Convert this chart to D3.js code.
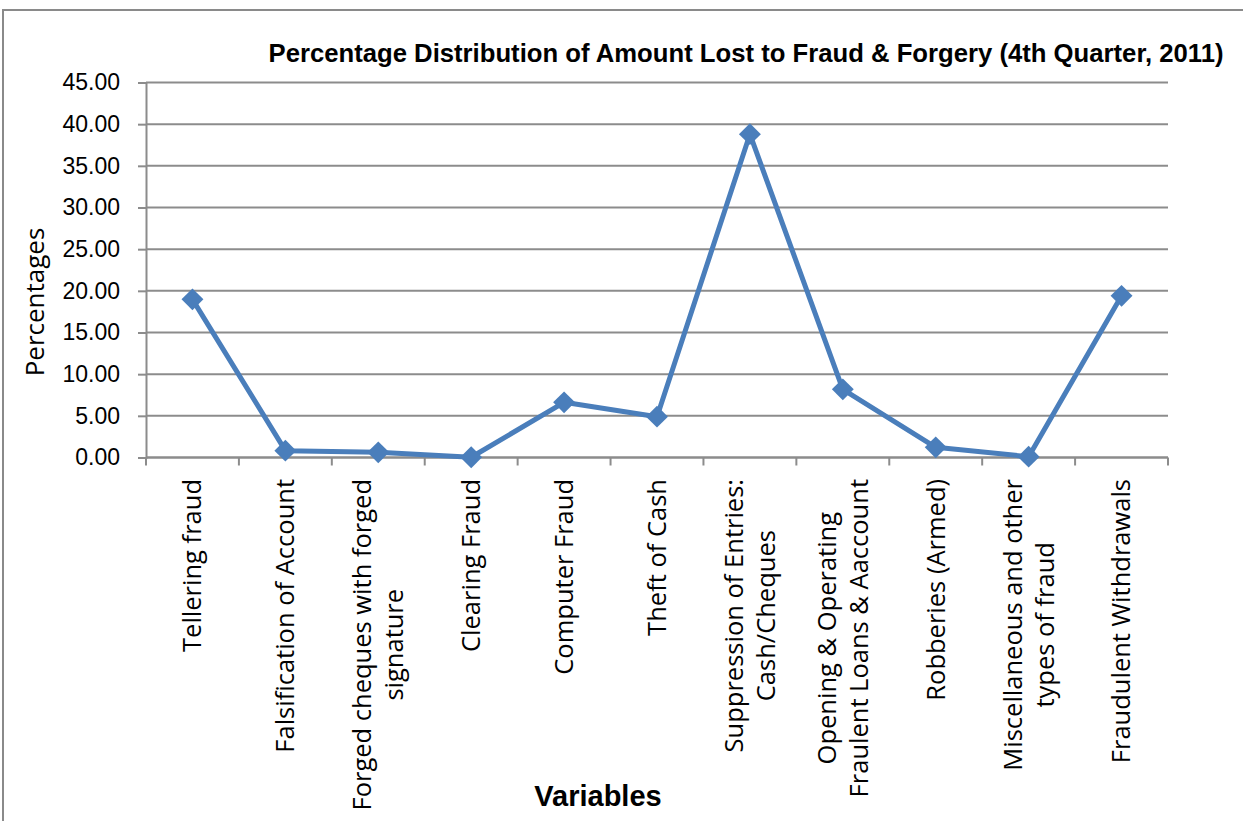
<!DOCTYPE html>
<html>
<head>
<meta charset="utf-8">
<script src="https://cdn.jsdelivr.net/npm/d3@7"></script>
<style>
  body { margin: 0; background: #fff; }
  svg { display: block; }
</style>
</head>
<body>
<svg id="chart"></svg>
<script>
// data
var categories = [
  "Tellering fraud",
  "Falsification of Account",
  "Forged cheques with forged|signature",
  "Clearing Fraud",
  "Computer Fraud",
  "Theft of Cash",
  "Suppression of Entries:|Cash/Cheques",
  "Opening & Operating|Fraulent Loans & Aaccount",
  "Robberies (Armed)",
  "Miscellaneous and other|types of fraud",
  "Fraudulent Withdrawals"
];
var percentages = [18.98, 0.82, 0.62, 0.03, 6.62, 4.9, 38.8, 8.18, 1.22, 0.1, 19.4];
var yTicks = [0, 5, 10, 15, 20, 25, 30, 35, 40, 45];

var width = 1243, height = 821;
var plotLeft = 146, plotRight = 1168, plotTop = 82.5, plotBottom = 457.5;

var svg = d3.select("#chart")
    .attr("width", width)
    .attr("height", height);

// outer chart border
svg.append("rect")
    .attr("x", 3)
    .attr("y", 10)
    .attr("width", width + 10)
    .attr("height", height + 10)
    .attr("fill", "none")
    .attr("stroke", "#8a8a8a")
    .attr("stroke-width", 2);

var x = d3.scaleBand()
    .domain(d3.range(categories.length))
    .range([plotLeft, plotRight]);

var y = d3.scaleLinear()
    .domain([0, 45])
    .range([plotBottom, plotTop]);

// gridlines
svg.append("g")
    .selectAll("line")
    .data(yTicks)
    .enter()
        .append("line")
        .attr("x1", plotLeft)
        .attr("x2", plotRight)
        .attr("y1", function(d) { return y(d); })
        .attr("y2", function(d) { return y(d); })
        .attr("stroke", "#8c8c8c")
        .attr("stroke-width", 2);

// y axis
var yAxis = svg.append("g")
    .attr("transform", "translate(" + plotLeft + ",0)")
    .call(d3.axisLeft(y).tickValues(yTicks).tickSize(8).tickPadding(18)
        .tickFormat(function(d) { return d.toFixed(2); }));
yAxis.select(".domain").attr("stroke", "#8c8c8c").attr("stroke-width", 2);
yAxis.selectAll(".tick line").attr("stroke", "#8c8c8c").attr("stroke-width", 2);
yAxis.selectAll("text")
    .attr("font-family", "'Liberation Sans', Arial, sans-serif")
    .attr("font-size", 23)
    .attr("fill", "#000");

// x axis: ticks at band edges
var xAxis = svg.append("g");
xAxis.append("line")
    .attr("x1", plotLeft)
    .attr("x2", plotRight)
    .attr("y1", plotBottom)
    .attr("y2", plotBottom)
    .attr("stroke", "#8c8c8c")
    .attr("stroke-width", 2);
xAxis.selectAll("line.tk")
    .data(d3.range(categories.length + 1))
    .enter()
        .append("line")
        .attr("class", "tk")
        .attr("x1", function(i) { return plotLeft + i * x.bandwidth(); })
        .attr("x2", function(i) { return plotLeft + i * x.bandwidth(); })
        .attr("y1", plotBottom)
        .attr("y2", plotBottom + 8)
        .attr("stroke", "#8c8c8c")
        .attr("stroke-width", 2);

// rotated category labels, lines centred on the longest one
var labelFont = "'Open Sans', 'Liberation Sans', sans-serif";
var labels = svg.append("g")
    .selectAll("g")
    .data(categories)
    .enter()
        .append("g");

labels.each(function(d, i) {
    var lines = d.split("|");
    var g = d3.select(this);
    var cx = x(i) + x.bandwidth() / 2;
    var lh = 32;
    var txt = g.append("text")
        .attr("font-family", labelFont)
        .attr("font-size", 25.5)
        .attr("fill", "#000")
        .attr("text-anchor", "middle");
    lines.forEach(function(l, k) {
        txt.append("tspan")
            .attr("x", 0)
            .attr("y", (k - (lines.length - 1) / 2) * lh)
            .attr("dy", "0.35em")
            .text(l);
    });
    var maxW = d3.max(txt.selectAll("tspan").nodes(), function(n) { return n.getComputedTextLength(); });
    g.attr("transform", "translate(" + cx + "," + (479 + maxW / 2) + ") rotate(-90)");
});

// series line
var line = d3.line()
    .x(function(d, i) { return x(i) + x.bandwidth() / 2; })
    .y(function(d) { return y(d); });

svg.append("path")
    .datum(percentages)
    .attr("d", line)
    .attr("fill", "none")
    .attr("stroke", "#4a7ebb")
    .attr("stroke-width", 5)
    .attr("stroke-linejoin", "round");

// diamond markers
svg.append("g")
    .selectAll("path")
    .data(percentages)
    .enter()
        .append("path")
        .attr("d", d3.symbol().type(d3.symbolSquare).size(240))
        .attr("transform", function(d, i) {
            return "translate(" + (x(i) + x.bandwidth() / 2) + "," + y(d) + ") rotate(45)";
        })
        .attr("fill", "#4a7ebb");

// title
svg.append("text")
    .attr("x", 746)
    .attr("y", 62)
    .attr("text-anchor", "middle")
    .attr("font-family", "'Liberation Sans Narrow', 'Arial Narrow', sans-serif")
    .attr("font-weight", "bold")
    .attr("font-size", 26)
    .attr("textLength", 955)
    .attr("lengthAdjust", "spacingAndGlyphs")
    .text("Percentage Distribution of Amount Lost to Fraud & Forgery (4th Quarter, 2011)");

// axis titles
svg.append("text")
    .attr("transform", "translate(44,302) rotate(-90)")
    .attr("text-anchor", "middle")
    .attr("font-family", labelFont)
    .attr("font-size", 26)
    .text("Percentages");

svg.append("text")
    .attr("x", 598)
    .attr("y", 806)
    .attr("text-anchor", "middle")
    .attr("font-family", "'Liberation Sans Narrow', 'Arial Narrow', sans-serif")
    .attr("font-weight", "bold")
    .attr("font-size", 29)
    .text("Variables");
</script>
</body>
</html>
